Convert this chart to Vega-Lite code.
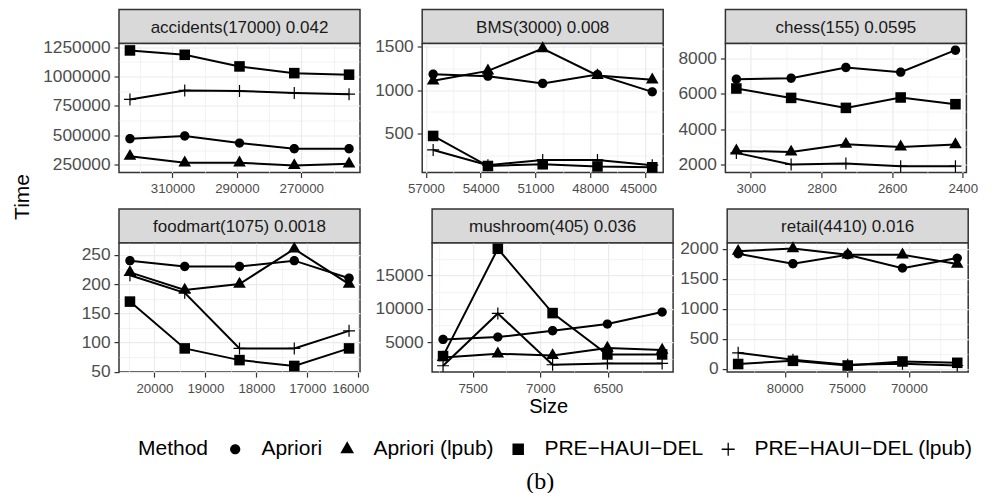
{
  "$schema": "https://vega.github.io/schema/vega-lite/v6.json",
  "padding": {"left": 11, "top": 8.5, "right": 0, "bottom": 0},
  "title": {"text": "(b)", "orient": "bottom", "anchor": "middle", "font": "Liberation Serif", "fontSize": 24, "fontWeight": "normal", "color": "black", "dx": 45, "offset": 10},
  "datasets": {
    "d": [
      {"panel":"accidents","method":"Apriori","size":323183,"time":471000},
      {"panel":"accidents","method":"Apriori","size":306183,"time":494000},
      {"panel":"accidents","method":"Apriori","size":289183,"time":434000},
      {"panel":"accidents","method":"Apriori","size":272183,"time":386000},
      {"panel":"accidents","method":"Apriori","size":255183,"time":386000},
      {"panel":"accidents","method":"Apriori (lpub)","size":323183,"time":323000},
      {"panel":"accidents","method":"Apriori (lpub)","size":306183,"time":267000},
      {"panel":"accidents","method":"Apriori (lpub)","size":289183,"time":267000},
      {"panel":"accidents","method":"Apriori (lpub)","size":272183,"time":244000},
      {"panel":"accidents","method":"Apriori (lpub)","size":255183,"time":258000},
      {"panel":"accidents","method":"PRE−HAUI−DEL","size":323183,"time":1222000},
      {"panel":"accidents","method":"PRE−HAUI−DEL","size":306183,"time":1185000},
      {"panel":"accidents","method":"PRE−HAUI−DEL","size":289183,"time":1086000},
      {"panel":"accidents","method":"PRE−HAUI−DEL","size":272183,"time":1029000},
      {"panel":"accidents","method":"PRE−HAUI−DEL","size":255183,"time":1016000},
      {"panel":"accidents","method":"PRE−HAUI−DEL (lpub)","size":323183,"time":805000},
      {"panel":"accidents","method":"PRE−HAUI−DEL (lpub)","size":306183,"time":882000},
      {"panel":"accidents","method":"PRE−HAUI−DEL (lpub)","size":289183,"time":877000},
      {"panel":"accidents","method":"PRE−HAUI−DEL (lpub)","size":272183,"time":860000},
      {"panel":"accidents","method":"PRE−HAUI−DEL (lpub)","size":255183,"time":850000},

      {"panel":"BMS","method":"Apriori","size":56602,"time":1185},
      {"panel":"BMS","method":"Apriori","size":53602,"time":1162},
      {"panel":"BMS","method":"Apriori","size":50602,"time":1077},
      {"panel":"BMS","method":"Apriori","size":47602,"time":1180},
      {"panel":"BMS","method":"Apriori","size":44602,"time":981},
      {"panel":"BMS","method":"Apriori (lpub)","size":56602,"time":1108},
      {"panel":"BMS","method":"Apriori (lpub)","size":53602,"time":1223},
      {"panel":"BMS","method":"Apriori (lpub)","size":50602,"time":1481},
      {"panel":"BMS","method":"Apriori (lpub)","size":47602,"time":1170},
      {"panel":"BMS","method":"Apriori (lpub)","size":44602,"time":1120},
      {"panel":"BMS","method":"PRE−HAUI−DEL","size":56602,"time":472},
      {"panel":"BMS","method":"PRE−HAUI−DEL","size":53602,"time":125},
      {"panel":"BMS","method":"PRE−HAUI−DEL","size":50602,"time":145},
      {"panel":"BMS","method":"PRE−HAUI−DEL","size":47602,"time":120},
      {"panel":"BMS","method":"PRE−HAUI−DEL","size":44602,"time":110},
      {"panel":"BMS","method":"PRE−HAUI−DEL (lpub)","size":56602,"time":310},
      {"panel":"BMS","method":"PRE−HAUI−DEL (lpub)","size":53602,"time":135},
      {"panel":"BMS","method":"PRE−HAUI−DEL (lpub)","size":50602,"time":195},
      {"panel":"BMS","method":"PRE−HAUI−DEL (lpub)","size":47602,"time":195},
      {"panel":"BMS","method":"PRE−HAUI−DEL (lpub)","size":44602,"time":135},

      {"panel":"chess","method":"Apriori","size":3041,"time":6828},
      {"panel":"chess","method":"Apriori","size":2886,"time":6885},
      {"panel":"chess","method":"Apriori","size":2731,"time":7490},
      {"panel":"chess","method":"Apriori","size":2576,"time":7225},
      {"panel":"chess","method":"Apriori","size":2421,"time":8470},
      {"panel":"chess","method":"Apriori (lpub)","size":3041,"time":2770},
      {"panel":"chess","method":"Apriori (lpub)","size":2886,"time":2713},
      {"panel":"chess","method":"Apriori (lpub)","size":2731,"time":3150},
      {"panel":"chess","method":"Apriori (lpub)","size":2576,"time":2997},
      {"panel":"chess","method":"Apriori (lpub)","size":2421,"time":3132},
      {"panel":"chess","method":"PRE−HAUI−DEL","size":3041,"time":6302},
      {"panel":"chess","method":"PRE−HAUI−DEL","size":2886,"time":5770},
      {"panel":"chess","method":"PRE−HAUI−DEL","size":2731,"time":5204},
      {"panel":"chess","method":"PRE−HAUI−DEL","size":2576,"time":5793},
      {"panel":"chess","method":"PRE−HAUI−DEL","size":2421,"time":5413},
      {"panel":"chess","method":"PRE−HAUI−DEL (lpub)","size":3041,"time":2657},
      {"panel":"chess","method":"PRE−HAUI−DEL (lpub)","size":2886,"time":2000},
      {"panel":"chess","method":"PRE−HAUI−DEL (lpub)","size":2731,"time":2057},
      {"panel":"chess","method":"PRE−HAUI−DEL (lpub)","size":2576,"time":1904},
      {"panel":"chess","method":"PRE−HAUI−DEL (lpub)","size":2421,"time":1904},

      {"panel":"foodmart","method":"Apriori","size":20481,"time":240},
      {"panel":"foodmart","method":"Apriori","size":19406,"time":230},
      {"panel":"foodmart","method":"Apriori","size":18331,"time":230},
      {"panel":"foodmart","method":"Apriori","size":17256,"time":240},
      {"panel":"foodmart","method":"Apriori","size":16181,"time":210},
      {"panel":"foodmart","method":"Apriori (lpub)","size":20481,"time":220},
      {"panel":"foodmart","method":"Apriori (lpub)","size":19406,"time":190},
      {"panel":"foodmart","method":"Apriori (lpub)","size":18331,"time":200},
      {"panel":"foodmart","method":"Apriori (lpub)","size":17256,"time":260},
      {"panel":"foodmart","method":"Apriori (lpub)","size":16181,"time":200},
      {"panel":"foodmart","method":"PRE−HAUI−DEL","size":20481,"time":170},
      {"panel":"foodmart","method":"PRE−HAUI−DEL","size":19406,"time":90},
      {"panel":"foodmart","method":"PRE−HAUI−DEL","size":18331,"time":70},
      {"panel":"foodmart","method":"PRE−HAUI−DEL","size":17256,"time":60},
      {"panel":"foodmart","method":"PRE−HAUI−DEL","size":16181,"time":90},
      {"panel":"foodmart","method":"PRE−HAUI−DEL (lpub)","size":20481,"time":215},
      {"panel":"foodmart","method":"PRE−HAUI−DEL (lpub)","size":19406,"time":185},
      {"panel":"foodmart","method":"PRE−HAUI−DEL (lpub)","size":18331,"time":90},
      {"panel":"foodmart","method":"PRE−HAUI−DEL (lpub)","size":17256,"time":90},
      {"panel":"foodmart","method":"PRE−HAUI−DEL (lpub)","size":16181,"time":120},

      {"panel":"mushroom","method":"Apriori","size":7719,"time":5400},
      {"panel":"mushroom","method":"Apriori","size":7314,"time":5750},
      {"panel":"mushroom","method":"Apriori","size":6909,"time":6700},
      {"panel":"mushroom","method":"Apriori","size":6504,"time":7700},
      {"panel":"mushroom","method":"Apriori","size":6099,"time":9500},
      {"panel":"mushroom","method":"Apriori (lpub)","size":7719,"time":2700},
      {"panel":"mushroom","method":"Apriori (lpub)","size":7314,"time":3250},
      {"panel":"mushroom","method":"Apriori (lpub)","size":6909,"time":3000},
      {"panel":"mushroom","method":"Apriori (lpub)","size":6504,"time":4100},
      {"panel":"mushroom","method":"Apriori (lpub)","size":6099,"time":3800},
      {"panel":"mushroom","method":"PRE−HAUI−DEL","size":7719,"time":2900},
      {"panel":"mushroom","method":"PRE−HAUI−DEL","size":7314,"time":19000},
      {"panel":"mushroom","method":"PRE−HAUI−DEL","size":6909,"time":9350},
      {"panel":"mushroom","method":"PRE−HAUI−DEL","size":6504,"time":3150},
      {"panel":"mushroom","method":"PRE−HAUI−DEL","size":6099,"time":3150},
      {"panel":"mushroom","method":"PRE−HAUI−DEL (lpub)","size":7719,"time":1450},
      {"panel":"mushroom","method":"PRE−HAUI−DEL (lpub)","size":7314,"time":9300},
      {"panel":"mushroom","method":"PRE−HAUI−DEL (lpub)","size":6909,"time":1600},
      {"panel":"mushroom","method":"PRE−HAUI−DEL (lpub)","size":6504,"time":1800},
      {"panel":"mushroom","method":"PRE−HAUI−DEL (lpub)","size":6099,"time":1800},

      {"panel":"retail","method":"Apriori","size":83752,"time":1917},
      {"panel":"retail","method":"Apriori","size":79342,"time":1750},
      {"panel":"retail","method":"Apriori","size":74932,"time":1900},
      {"panel":"retail","method":"Apriori","size":70522,"time":1678},
      {"panel":"retail","method":"Apriori","size":66112,"time":1845},
      {"panel":"retail","method":"Apriori (lpub)","size":83752,"time":1960},
      {"panel":"retail","method":"Apriori (lpub)","size":79342,"time":2005},
      {"panel":"retail","method":"Apriori (lpub)","size":74932,"time":1900},
      {"panel":"retail","method":"Apriori (lpub)","size":70522,"time":1900},
      {"panel":"retail","method":"Apriori (lpub)","size":66112,"time":1745},
      {"panel":"retail","method":"PRE−HAUI−DEL","size":83752,"time":80},
      {"panel":"retail","method":"PRE−HAUI−DEL","size":79342,"time":133},
      {"panel":"retail","method":"PRE−HAUI−DEL","size":74932,"time":55},
      {"panel":"retail","method":"PRE−HAUI−DEL","size":70522,"time":122},
      {"panel":"retail","method":"PRE−HAUI−DEL","size":66112,"time":100},
      {"panel":"retail","method":"PRE−HAUI−DEL (lpub)","size":83752,"time":267},
      {"panel":"retail","method":"PRE−HAUI−DEL (lpub)","size":79342,"time":150},
      {"panel":"retail","method":"PRE−HAUI−DEL (lpub)","size":74932,"time":67},
      {"panel":"retail","method":"PRE−HAUI−DEL (lpub)","size":70522,"time":85},
      {"panel":"retail","method":"PRE−HAUI−DEL (lpub)","size":66112,"time":55}
    ]
  },
  "vconcat": [
    {
      "title": {"text": "Time", "orient": "left", "anchor": "middle", "font": "Liberation Sans", "fontSize": 21, "fontWeight": "normal", "color": "black", "offset": 9, "dx": 16},
      "spacing": 11.6,
      "resolve": {"scale": {"x": "independent", "y": "independent", "shape": "shared"}, "axis": {"x": "independent", "y": "independent"}},
      "vconcat": [
        {
          "spacing": 12.2,
          "resolve": {"scale": {"x": "independent", "y": "independent", "shape": "shared"}, "axis": {"x": "independent", "y": "independent"}},
          "hconcat": [
            {
              "vconcat": [
                {"width": 241, "height": 34, "data": {"values": [{"label": "accidents(17000) 0.042"}]}, "view": {"fill": "#d9d9d9", "stroke": "#333333", "strokeWidth": 1.5},
                 "mark": {"type": "text", "font": "Liberation Sans", "fontSize": 17, "color": "#1a1a1a", "dy": 1}, "encoding": {"text": {"field": "label"}}},
                {"width": 241, "height": 129, "data": {"name": "d"}, "transform": [{"filter": "datum.panel === 'accidents'"}], "view": {"fill": "white", "stroke": "#333333", "strokeWidth": 1.5},
                 "encoding": {
                   "x": {"field": "size", "type": "quantitative", "scale": {"domain": [251783, 326583], "reverse": true, "nice": false, "zero": false},
                         "axis": {"title": null, "format": "d", "values": [260000,270000,280000,290000,300000,310000,320000],
                                  "labelExpr": "indexof([270000,290000,310000], datum.value) < 0 ? '' : datum.label",
                                  "tickOpacity": {"condition": {"test": "indexof([270000,290000,310000], datum.value) < 0", "value": 0}, "value": 1},
                                  "gridWidth": {"condition": {"test": "indexof([270000,290000,310000], datum.value) < 0", "value": 0.6}, "value": 1.2}}},
                   "y": {"field": "time", "type": "quantitative", "scale": {"domain": [184000, 1281000], "nice": false, "zero": false},
                         "axis": {"title": null, "format": "d", "values": [250000,375000,500000,625000,750000,875000,1000000,1125000,1250000],
                                  "labelExpr": "indexof([250000,500000,750000,1000000,1250000], datum.value) < 0 ? '' : datum.label",
                                  "tickOpacity": {"condition": {"test": "indexof([250000,500000,750000,1000000,1250000], datum.value) < 0", "value": 0}, "value": 1},
                                  "gridWidth": {"condition": {"test": "indexof([250000,500000,750000,1000000,1250000], datum.value) < 0", "value": 0.6}, "value": 1.2}}}
                 },
                 "layer": [
                   {"mark": {"type": "line", "color": "black", "strokeWidth": 2}, "encoding": {"detail": {"field": "method"}}},
                   {"mark": {"type": "point", "filled": true, "opacity": 1, "color": "black", "strokeWidth": 0, "size": 144},
                    "encoding": {"shape": {"field": "method", "type": "nominal", "title": "Method", "scale": {"domain": ["Apriori", "Apriori (lpub)", "PRE−HAUI−DEL", "PRE−HAUI−DEL (lpub)"], "range": ["M-0.78,0A0.78,0.78 0 1,0 0.78,0A0.78,0.78 0 1,0 -0.78,0Z", "M0,-1.212L1.05,0.606L-1.05,0.606Z", "M-0.88,-0.88H0.88V0.88H-0.88Z", "M-1,-0.1H-0.1V-1H0.1V-0.1H1V0.1H0.1V1H-0.1V0.1H-1Z"]}}}}
                 ]}
              ],
              "spacing": 0, "bounds": "flush",
              "resolve": {"scale": {"x": "independent", "y": "independent"}}
            },
            {
              "vconcat": [
                {"width": 241, "height": 34, "data": {"values": [{"label": "BMS(3000) 0.008"}]}, "view": {"fill": "#d9d9d9", "stroke": "#333333", "strokeWidth": 1.5},
                 "mark": {"type": "text", "font": "Liberation Sans", "fontSize": 17, "color": "#1a1a1a", "dy": 1}, "encoding": {"text": {"field": "label"}}},
                {"width": 241, "height": 129, "data": {"name": "d"}, "transform": [{"filter": "datum.panel === 'BMS'"}], "view": {"fill": "white", "stroke": "#333333", "strokeWidth": 1.5},
                 "encoding": {
                   "x": {"field": "size", "type": "quantitative", "scale": {"domain": [44002, 57202], "reverse": true, "nice": false, "zero": false},
                         "axis": {"title": null, "format": "d", "values": [45000,46500,48000,49500,51000,52500,54000,55500,57000],
                                  "labelExpr": "indexof([45000,48000,51000,54000,57000], datum.value) < 0 ? '' : datum.label",
                                  "labelOffset": {"condition": {"test": "datum.value === 45000", "value": -7}, "value": 0},
                                  "tickOpacity": {"condition": {"test": "indexof([45000,48000,51000,54000,57000], datum.value) < 0", "value": 0}, "value": 1},
                                  "gridWidth": {"condition": {"test": "indexof([45000,48000,51000,54000,57000], datum.value) < 0", "value": 0.6}, "value": 1.2}}},
                   "y": {"field": "time", "type": "quantitative", "scale": {"domain": [50, 1539], "nice": false, "zero": false},
                         "axis": {"title": null, "format": "d", "values": [250,500,750,1000,1250,1500],
                                  "labelExpr": "indexof([500,1000,1500], datum.value) < 0 ? '' : slice('\u2007\u2007\u2007\u2007\u2007', 0, 5 - length(datum.label)) + datum.label",
                                  "tickOpacity": {"condition": {"test": "indexof([500,1000,1500], datum.value) < 0", "value": 0}, "value": 1},
                                  "gridWidth": {"condition": {"test": "indexof([500,1000,1500], datum.value) < 0", "value": 0.6}, "value": 1.2}}}
                 },
                 "layer": [
                   {"mark": {"type": "line", "color": "black", "strokeWidth": 2}, "encoding": {"detail": {"field": "method"}}},
                   {"mark": {"type": "point", "filled": true, "opacity": 1, "color": "black", "strokeWidth": 0, "size": 144},
                    "encoding": {"shape": {"field": "method", "type": "nominal", "title": "Method", "scale": {"domain": ["Apriori", "Apriori (lpub)", "PRE−HAUI−DEL", "PRE−HAUI−DEL (lpub)"], "range": ["M-0.78,0A0.78,0.78 0 1,0 0.78,0A0.78,0.78 0 1,0 -0.78,0Z", "M0,-1.212L1.05,0.606L-1.05,0.606Z", "M-0.88,-0.88H0.88V0.88H-0.88Z", "M-1,-0.1H-0.1V-1H0.1V-0.1H1V0.1H0.1V1H-0.1V0.1H-1Z"]}}}}
                 ]}
              ],
              "spacing": 0, "bounds": "flush",
              "resolve": {"scale": {"x": "independent", "y": "independent"}}
            },
            {
              "vconcat": [
                {"width": 241, "height": 34, "data": {"values": [{"label": "chess(155) 0.0595"}]}, "view": {"fill": "#d9d9d9", "stroke": "#333333", "strokeWidth": 1.5},
                 "mark": {"type": "text", "font": "Liberation Sans", "fontSize": 17, "color": "#1a1a1a", "dy": 1}, "encoding": {"text": {"field": "label"}}},
                {"width": 241, "height": 129, "data": {"name": "d"}, "transform": [{"filter": "datum.panel === 'chess'"}], "view": {"fill": "white", "stroke": "#333333", "strokeWidth": 1.5},
                 "encoding": {
                   "x": {"field": "size", "type": "quantitative", "scale": {"domain": [2390, 3072], "reverse": true, "nice": false, "zero": false},
                         "axis": {"title": null, "format": "d", "values": [2400,2500,2600,2700,2800,2900,3000],
                                  "labelExpr": "indexof([2400,2600,2800,3000], datum.value) < 0 ? '' : datum.label",
                                  "tickOpacity": {"condition": {"test": "indexof([2400,2600,2800,3000], datum.value) < 0", "value": 0}, "value": 1},
                                  "gridWidth": {"condition": {"test": "indexof([2400,2600,2800,3000], datum.value) < 0", "value": 0.6}, "value": 1.2}}},
                   "y": {"field": "time", "type": "quantitative", "scale": {"domain": [1547, 8849], "nice": false, "zero": false},
                         "axis": {"title": null, "format": "d", "values": [2000,3000,4000,5000,6000,7000,8000],
                                  "labelExpr": "indexof([2000,4000,6000,8000], datum.value) < 0 ? '' : datum.label",
                                  "tickOpacity": {"condition": {"test": "indexof([2000,4000,6000,8000], datum.value) < 0", "value": 0}, "value": 1},
                                  "gridWidth": {"condition": {"test": "indexof([2000,4000,6000,8000], datum.value) < 0", "value": 0.6}, "value": 1.2}}}
                 },
                 "layer": [
                   {"mark": {"type": "line", "color": "black", "strokeWidth": 2}, "encoding": {"detail": {"field": "method"}}},
                   {"mark": {"type": "point", "filled": true, "opacity": 1, "color": "black", "strokeWidth": 0, "size": 144},
                    "encoding": {"shape": {"field": "method", "type": "nominal", "title": "Method", "scale": {"domain": ["Apriori", "Apriori (lpub)", "PRE−HAUI−DEL", "PRE−HAUI−DEL (lpub)"], "range": ["M-0.78,0A0.78,0.78 0 1,0 0.78,0A0.78,0.78 0 1,0 -0.78,0Z", "M0,-1.212L1.05,0.606L-1.05,0.606Z", "M-0.88,-0.88H0.88V0.88H-0.88Z", "M-1,-0.1H-0.1V-1H0.1V-0.1H1V0.1H0.1V1H-0.1V0.1H-1Z"]}}}}
                 ]}
              ],
              "spacing": 0, "bounds": "flush",
              "resolve": {"scale": {"x": "independent", "y": "independent"}}
            }
          ]
        },
        {
          "spacing": 4.1,
          "resolve": {"scale": {"x": "independent", "y": "independent", "shape": "shared"}, "axis": {"x": "independent", "y": "independent"}},
          "hconcat": [
            {
              "vconcat": [
                {"width": 241, "height": 34, "data": {"values": [{"label": "foodmart(1075) 0.0018"}]}, "view": {"fill": "#d9d9d9", "stroke": "#333333", "strokeWidth": 1.5},
                 "mark": {"type": "text", "font": "Liberation Sans", "fontSize": 17, "color": "#1a1a1a", "dy": 1}, "encoding": {"text": {"field": "label"}}},
                {"width": 241, "height": 129, "data": {"name": "d"}, "transform": [{"filter": "datum.panel === 'foodmart'"}], "view": {"fill": "white", "stroke": "#333333", "strokeWidth": 1.5},
                 "encoding": {
                   "x": {"field": "size", "type": "quantitative", "scale": {"domain": [15966, 20696], "reverse": true, "nice": false, "zero": false},
                         "axis": {"title": null, "format": "d", "values": [16000,16500,17000,17500,18000,18500,19000,19500,20000,20500],
                                  "labelExpr": "indexof([16000,17000,18000,19000,20000], datum.value) < 0 ? '' : datum.label",
                                  "labelOffset": {"condition": {"test": "datum.value === 16000", "value": -8}, "value": 0},
                                  "tickOpacity": {"condition": {"test": "indexof([16000,17000,18000,19000,20000], datum.value) < 0", "value": 0}, "value": 1},
                                  "gridWidth": {"condition": {"test": "indexof([16000,17000,18000,19000,20000], datum.value) < 0", "value": 0.6}, "value": 1.2}}},
                   "y": {"field": "time", "type": "quantitative", "scale": {"domain": [49.5, 270], "nice": false, "zero": false},
                         "axis": {"title": null, "format": "d", "values": [50,75,100,125,150,175,200,225,250],
                                  "labelExpr": "indexof([50,100,150,200,250], datum.value) < 0 ? '' : slice('\u2007\u2007\u2007\u2007\u2007\u2007\u2007', 0, 7 - length(datum.label)) + datum.label",
                                  "tickOpacity": {"condition": {"test": "indexof([50,100,150,200,250], datum.value) < 0", "value": 0}, "value": 1},
                                  "gridWidth": {"condition": {"test": "indexof([50,100,150,200,250], datum.value) < 0", "value": 0.6}, "value": 1.2}}}
                 },
                 "layer": [
                   {"mark": {"type": "line", "color": "black", "strokeWidth": 2}, "encoding": {"detail": {"field": "method"}}},
                   {"mark": {"type": "point", "filled": true, "opacity": 1, "color": "black", "strokeWidth": 0, "size": 144},
                    "encoding": {"shape": {"field": "method", "type": "nominal", "title": "Method", "scale": {"domain": ["Apriori", "Apriori (lpub)", "PRE−HAUI−DEL", "PRE−HAUI−DEL (lpub)"], "range": ["M-0.78,0A0.78,0.78 0 1,0 0.78,0A0.78,0.78 0 1,0 -0.78,0Z", "M0,-1.212L1.05,0.606L-1.05,0.606Z", "M-0.88,-0.88H0.88V0.88H-0.88Z", "M-1,-0.1H-0.1V-1H0.1V-0.1H1V0.1H0.1V1H-0.1V0.1H-1Z"]}}}}
                 ]}
              ],
              "spacing": 0, "bounds": "flush",
              "resolve": {"scale": {"x": "independent", "y": "independent"}}
            },
            {
              "vconcat": [
                {"width": 241, "height": 34, "data": {"values": [{"label": "mushroom(405) 0.036"}]}, "view": {"fill": "#d9d9d9", "stroke": "#333333", "strokeWidth": 1.5},
                 "mark": {"type": "text", "font": "Liberation Sans", "fontSize": 17, "color": "#1a1a1a", "dy": 1}, "encoding": {"text": {"field": "label"}}},
                {"width": 241, "height": 129, "data": {"name": "d"}, "transform": [{"filter": "datum.panel === 'mushroom'"}], "view": {"fill": "white", "stroke": "#333333", "strokeWidth": 1.5},
                 "encoding": {
                   "x": {"field": "size", "type": "quantitative", "scale": {"domain": [6018, 7800], "reverse": true, "nice": false, "zero": false},
                         "axis": {"title": "Size", "titleX": 116, "titlePadding": 2, "format": "d", "values": [6250,6500,6750,7000,7250,7500,7750],
                                  "labelExpr": "indexof([6500,7000,7500], datum.value) < 0 ? '' : datum.label",
                                  "tickOpacity": {"condition": {"test": "indexof([6500,7000,7500], datum.value) < 0", "value": 0}, "value": 1},
                                  "gridWidth": {"condition": {"test": "indexof([6500,7000,7500], datum.value) < 0", "value": 0.6}, "value": 1.2}}},
                   "y": {"field": "time", "type": "quantitative", "scale": {"domain": [500, 19850], "nice": false, "zero": false},
                         "axis": {"title": null, "format": "d", "values": [2500,5000,7500,10000,12500,15000,17500],
                                  "labelExpr": "indexof([5000,10000,15000], datum.value) < 0 ? '' : datum.label",
                                  "tickOpacity": {"condition": {"test": "indexof([5000,10000,15000], datum.value) < 0", "value": 0}, "value": 1},
                                  "gridWidth": {"condition": {"test": "indexof([5000,10000,15000], datum.value) < 0", "value": 0.6}, "value": 1.2}}}
                 },
                 "layer": [
                   {"mark": {"type": "line", "color": "black", "strokeWidth": 2}, "encoding": {"detail": {"field": "method"}}},
                   {"mark": {"type": "point", "filled": true, "opacity": 1, "color": "black", "strokeWidth": 0, "size": 144},
                    "encoding": {"shape": {"field": "method", "type": "nominal", "title": "Method", "scale": {"domain": ["Apriori", "Apriori (lpub)", "PRE−HAUI−DEL", "PRE−HAUI−DEL (lpub)"], "range": ["M-0.78,0A0.78,0.78 0 1,0 0.78,0A0.78,0.78 0 1,0 -0.78,0Z", "M0,-1.212L1.05,0.606L-1.05,0.606Z", "M-0.88,-0.88H0.88V0.88H-0.88Z", "M-1,-0.1H-0.1V-1H0.1V-0.1H1V0.1H0.1V1H-0.1V0.1H-1Z"]}}}}
                 ]}
              ],
              "spacing": 0, "bounds": "flush",
              "resolve": {"scale": {"x": "independent", "y": "independent"}}
            },
            {
              "vconcat": [
                {"width": 241, "height": 34, "data": {"values": [{"label": "retail(4410) 0.016"}]}, "view": {"fill": "#d9d9d9", "stroke": "#333333", "strokeWidth": 1.5},
                 "mark": {"type": "text", "font": "Liberation Sans", "fontSize": 17, "color": "#1a1a1a", "dy": 1}, "encoding": {"text": {"field": "label"}}},
                {"width": 241, "height": 129, "data": {"name": "d"}, "transform": [{"filter": "datum.panel === 'retail'"}], "view": {"fill": "white", "stroke": "#333333", "strokeWidth": 1.5},
                 "encoding": {
                   "x": {"field": "size", "type": "quantitative", "scale": {"domain": [65230, 84634], "reverse": true, "nice": false, "zero": false},
                         "axis": {"title": null, "format": "d", "values": [67500,70000,72500,75000,77500,80000,82500],
                                  "labelExpr": "indexof([70000,75000,80000], datum.value) < 0 ? '' : datum.label",
                                  "tickOpacity": {"condition": {"test": "indexof([70000,75000,80000], datum.value) < 0", "value": 0}, "value": 1},
                                  "gridWidth": {"condition": {"test": "indexof([70000,75000,80000], datum.value) < 0", "value": 0.6}, "value": 1.2}}},
                   "y": {"field": "time", "type": "quantitative", "scale": {"domain": [-55, 2095], "nice": false, "zero": false},
                         "axis": {"title": null, "format": "d", "values": [0,250,500,750,1000,1250,1500,1750,2000],
                                  "labelExpr": "indexof([0,500,1000,1500,2000], datum.value) < 0 ? '' : slice('\u2007\u2007\u2007\u2007\u2007', 0, 5 - length(datum.label)) + datum.label",
                                  "tickOpacity": {"condition": {"test": "indexof([0,500,1000,1500,2000], datum.value) < 0", "value": 0}, "value": 1},
                                  "gridWidth": {"condition": {"test": "indexof([0,500,1000,1500,2000], datum.value) < 0", "value": 0.6}, "value": 1.2}}}
                 },
                 "layer": [
                   {"mark": {"type": "line", "color": "black", "strokeWidth": 2}, "encoding": {"detail": {"field": "method"}}},
                   {"mark": {"type": "point", "filled": true, "opacity": 1, "color": "black", "strokeWidth": 0, "size": 144},
                    "encoding": {"shape": {"field": "method", "type": "nominal", "title": "Method", "scale": {"domain": ["Apriori", "Apriori (lpub)", "PRE−HAUI−DEL", "PRE−HAUI−DEL (lpub)"], "range": ["M-0.78,0A0.78,0.78 0 1,0 0.78,0A0.78,0.78 0 1,0 -0.78,0Z", "M0,-1.212L1.05,0.606L-1.05,0.606Z", "M-0.88,-0.88H0.88V0.88H-0.88Z", "M-1,-0.1H-0.1V-1H0.1V-0.1H1V0.1H0.1V1H-0.1V0.1H-1Z"]}}}}
                 ]}
              ],
              "spacing": 0, "bounds": "flush",
              "resolve": {"scale": {"x": "independent", "y": "independent"}}
            }
          ]
        }
      ]
    }
  ],
  "resolve": {"scale": {"shape": "shared"}},
  "config": {
    "font": "Liberation Sans",
    "view": {"stroke": "#333333"},
    "axis": {"domain": false, "grid": true, "gridColor": "#ebebeb", "tickColor": "#333333", "tickSize": 5, "tickWidth": 1.2, "labelColor": "#4d4d4d", "labelFont": "Liberation Sans", "labelPadding": 4, "labelOverlap": false, "titleFont": "Liberation Sans", "titleFontWeight": "normal", "titleColor": "black", "titleFontSize": 20},
    "axisX": {"labelFontSize": 13.3},
    "axisY": {"labelFontSize": 17.3},
    "legend": {"orient": "none", "legendX": 19, "legendY": 429, "direction": "horizontal", "titleOrient": "left", "titleFont": "Liberation Sans", "titleFontSize": 21, "titleFontWeight": "normal", "titleColor": "black", "labelFont": "Liberation Sans", "labelFontSize": 21, "labelColor": "black", "labelLimit": 0, "labelOffset": 15.7, "columnPadding": 14, "titlePadding": 15.7, "symbolSize": 170, "symbolFillColor": "black", "symbolStrokeWidth": 0, "symbolOpacity": 1}
  }
}
